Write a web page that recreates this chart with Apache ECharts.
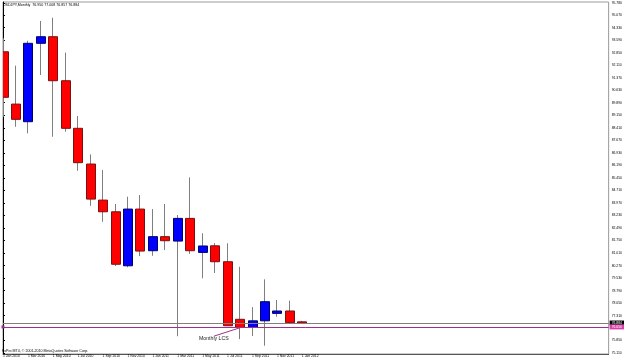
<!DOCTYPE html>
<html>
<head>
<meta charset="utf-8">
<script src="https://cdn.jsdelivr.net/npm/echarts@6/dist/echarts.min.js"></script>
<style>
  html, body { margin: 0; padding: 0; background: #fff; }
  #chart { width: 625px; height: 361px; }
</style>
</head>
<body>
<div id="chart"></div>
<script>
// USDJPY monthly bars, Jan 2010 .. Jan 2012
const months = ['Jan 2010', 'Feb 2010', 'Mar 2010', 'Apr 2010', 'May 2010', 'Jun 2010',
  'Jul 2010', 'Aug 2010', 'Sep 2010', 'Oct 2010', 'Nov 2010', 'Dec 2010',
  'Jan 2011', 'Feb 2011', 'Mar 2011', 'Apr 2011', 'May 2011', 'Jun 2011',
  'Jul 2011', 'Aug 2011', 'Sep 2011', 'Oct 2011', 'Nov 2011', 'Dec 2011', 'Jan 2012'];
const openP  = [92.90, 89.81, 88.77, 93.40, 93.79, 91.19, 88.38, 86.27, 84.14, 83.45, 80.26, 83.61,
  81.15, 81.98, 81.72, 83.06, 81.05, 81.44, 80.50, 77.10, 76.62, 77.01, 77.45, 77.59, 76.950];
const closeP = [90.21, 88.91, 93.40, 93.79, 91.19, 88.38, 86.35, 84.20, 83.45, 80.35, 83.61, 81.13,
  81.98, 81.74, 83.06, 81.15, 81.43, 80.50, 76.72, 76.62, 77.01, 78.14, 77.59, 76.90, 76.884];
const lowP   = [89.06, 88.47, 88.08, 91.53, 87.88, 88.18, 85.87, 83.80, 82.86, 80.25, 80.17, 80.83,
  80.85, 81.19, 76.10, 80.96, 79.52, 79.83, 76.70, 75.93, 76.11, 75.54, 77.25, 76.88, 76.857];
const highP  = [93.70, 92.08, 93.55, 94.72, 94.91, 92.85, 89.11, 86.84, 85.92, 83.91, 84.34, 84.44,
  83.61, 83.91, 83.26, 85.48, 82.18, 81.60, 81.59, 80.20, 77.82, 79.46, 78.24, 78.20, 77.008];

const yTicks = [75.110, 75.850, 77.310, 78.050, 78.790, 79.530, 80.270, 81.010, 81.750, 82.490,
  83.230, 83.970, 84.710, 85.450, 86.190, 86.930, 87.670, 88.410, 89.150, 89.890, 90.630,
  91.370, 92.110, 92.850, 93.590, 94.330, 95.070, 95.780];
const xTicks = [0, 2, 4, 6, 8, 10, 12, 14, 16, 18, 20, 22, 24];

const bidPrice = 76.884;
const lcsLevel = 76.650;
const lcsPointer = [[16.96, 76.11], [19.2, 76.64]];

const FONT = 'Liberation Sans';

function renderCandle(params, api) {
  const i = api.value(0);
  const o = api.value(1);
  const c = api.value(2);
  const hi = api.coord([i, api.value(4)]);
  const lo = api.coord([i, api.value(3)]);
  const po = api.coord([i, o]);
  const pc = api.coord([i, c]);
  const w = Math.round(api.size([1, 0])[0] * 0.72);
  const up = c >= o;
  const wx = Math.floor(hi[0]) + 0.5;
  const bx = Math.floor(hi[0]) - Math.floor(w / 2) + 0.5;
  const top = Math.min(po[1], pc[1]);
  return {
    type: 'group',
    children: [
      {
        type: 'line',
        shape: { x1: wx, y1: hi[1], x2: wx, y2: lo[1] },
        style: { stroke: '#7f7f7f', lineWidth: 1 }
      },
      {
        type: 'rect',
        shape: { x: bx, y: top, width: w, height: Math.max(Math.abs(po[1] - pc[1]), 1) },
        style: {
          fill: up ? '#0000ff' : '#ff0000',
          stroke: up ? '#00006a' : '#7a1010',
          lineWidth: 1
        }
      }
    ]
  };
}

const chart = echarts.init(document.getElementById('chart'));

chart.setOption({
  backgroundColor: '#ffffff',
  animation: false,
  textStyle: { fontFamily: FONT },
  grid: {
    left: 1, right: 16, top: 2, bottom: 7,
    show: true,
    borderColor: '#9a9a9a',
    borderWidth: 1
  },
  xAxis: {
    type: 'value',
    min: 0,
    max: 48.64,
    splitLine: { show: false },
    axisLine: { show: true, onZero: false, lineStyle: { color: '#555', width: 1 } },
    axisTick: { show: false },
    axisLabel: {
      customValues: xTicks,
      formatter: v => '1 ' + months[v],
      fontSize: 3.4,
      fontFamily: FONT,
      color: '#000',
      margin: 1,
      align: 'left'
    }
  },
  yAxis: {
    type: 'value',
    position: 'right',
    min: 75.05,
    max: 95.84,
    splitLine: { show: false },
    axisLine: { show: true, lineStyle: { color: '#000', width: 1 } },
    axisTick: { show: true, customValues: yTicks, length: 2, lineStyle: { color: '#000' } },
    axisLabel: {
      customValues: yTicks,
      formatter: v => v.toFixed(3),
      fontSize: 3.4,
      fontFamily: FONT,
      color: '#000',
      margin: 3
    }
  },
  series: [
    {
      name: 'USDJPY',
      type: 'custom',
      clip: true,
      renderItem: renderCandle,
      encode: { x: 0, y: [1, 2, 3, 4] },
      data: months.map((m, i) => [i, openP[i], closeP[i], lowP[i], highP[i]])
    },
    {
      name: 'levels',
      type: 'line',
      data: [],
      markLine: {
        silent: true,
        animation: false,
        symbol: 'none',
        data: [
          {
            yAxis: bidPrice,
            lineStyle: { color: '#808080', width: 1, type: 'solid' },
            label: {
              show: true, position: 'end', distance: 1,
              formatter: bidPrice.toFixed(3),
              backgroundColor: '#000', color: '#fff',
              fontSize: 3.4, fontFamily: FONT, padding: [1, 2]
            }
          },
          {
            yAxis: lcsLevel,
            symbol: ['circle', 'none'],
            symbolSize: 3,
            lineStyle: { color: '#a0308c', width: 1, type: 'solid' },
            label: {
              show: true, position: 'end', distance: 1,
              formatter: lcsLevel.toFixed(3),
              backgroundColor: '#d83fa8', color: '#fff',
              fontSize: 3.4, fontFamily: FONT, padding: [1, 2]
            }
          },
          [
            { coord: lcsPointer[0], symbol: 'none' },
            { coord: lcsPointer[1], symbol: 'none' }
          ]
        ],
        lineStyle: { color: '#a0308c', width: 1, type: 'solid' },
        label: { show: false }
      }
    }
  ],
  graphic: [
    {
      type: 'text', left: 3, top: 3,
      style: { text: 'USDJPY,Monthly  76.950 77.008 76.857 76.884', fontSize: 3.6, fontFamily: FONT, fill: '#000' }
    },
    {
      type: 'text', left: 2, top: 349,
      style: { text: 'FxPro MT4, \u00a9 2001-2010 MetaQuotes Software Corp.', fontSize: 3.6, fontFamily: FONT, fill: '#000' }
    },
    {
      type: 'text', left: 199, top: 336,
      style: { text: 'Monthly LCS', fontSize: 5.2, fontFamily: FONT, fill: '#222' }
    }
  ]
});
</script>
</body>
</html>
